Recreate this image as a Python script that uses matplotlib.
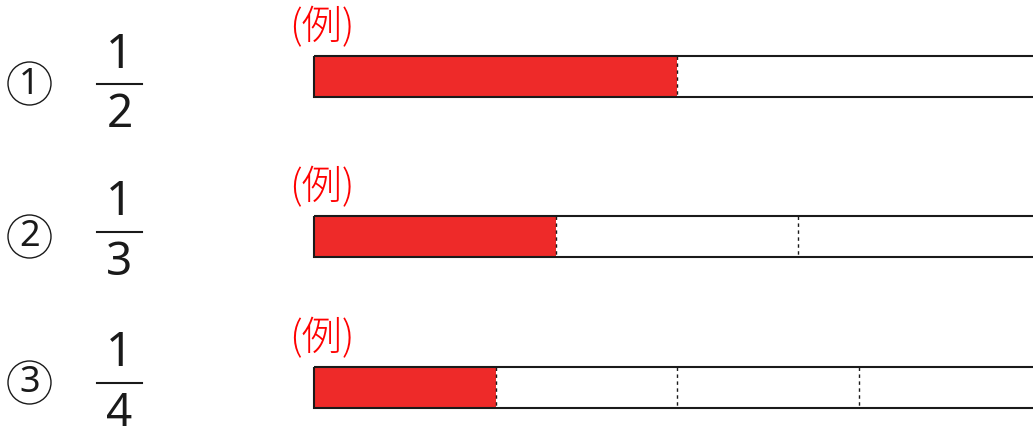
import matplotlib
matplotlib.use("Agg")
import matplotlib.pyplot as plt
from matplotlib.patches import Ellipse

plt.rcParams['font.family'] = ['Noto Sans CJK JP', 'DejaVu Sans']

# ---- data ----
row_labels = ["1", "2", "3"]
numerators = [1, 1, 1]
denominators = [2, 3, 4]
example_label = "(例)"
shaded_parts = [1, 1, 1]

W, H = 1033, 435
fig = plt.figure(figsize=(W / 100, H / 100), dpi=100)
fig.patch.set_facecolor("white")

# layout (pixels)
bar_left_px, bar_right_px = 314, 1040
bar_centers_px = [77.5, 237.5, 388.5]
bar_h_px = 41
circle_cy = [84.5, 237.5, 383.5]
frac_line_y = [85, 233, 384]

def fx(x):
    return x / W

def fy(y):
    return 1 - y / H

# axis for bars: x in fraction units (0..1 = full bar), y in pixels
ax = fig.add_axes([0, 0, 1, 1])
scale = bar_right_px - bar_left_px
ax.set_xlim(-bar_left_px / scale, (W - bar_left_px) / scale)
ax.set_ylim(H, 0)
ax.axis("off")

red = "#ee2a29"
for i, (num, den) in enumerate(zip(numerators, denominators)):
    yc = bar_centers_px[i]
    # shaded part
    ax.barh(yc, shaded_parts[i] * num / den, left=0, height=bar_h_px,
            color=red, edgecolor="none", zorder=2)
    # outline
    ax.barh(yc, 1.0, left=0, height=bar_h_px, fill=False,
            edgecolor="#1a1a1a", linewidth=1.5, zorder=3)
    # dividers
    for k in range(1, den):
        ax.vlines(k / den, yc - bar_h_px / 2, yc + bar_h_px / 2,
                  colors="#1a1a1a", linewidth=1.0,
                  linestyles=(0, (2.5, 2.5)), zorder=4)
    # (例) label
    fig.text(fx(289), fy(yc - bar_h_px / 2 - 29), example_label,
             color="#ff0000", fontsize=29, fontweight="light",
             ha="left", va="center")

    # circled number
    cy = circle_cy[i]
    fig.add_artist(Ellipse((fx(29.5), fy(cy)), 43 / W, 43 / H,
                           transform=fig.transFigure, fill=False,
                           edgecolor="#1a1a1a", linewidth=1.0))
    fig.text(fx(29.5), fy(cy), row_labels[i], fontsize=26,
             family=["Noto Sans", "DejaVu Sans"], color="#1a1a1a",
             ha="center", va="center")

    # fraction
    ly = frac_line_y[i]
    fig.add_artist(plt.Line2D([fx(97), fx(142)], [fy(ly), fy(ly)],
                              transform=fig.transFigure,
                              color="#1a1a1a", linewidth=1.5))
    fig.text(fx(119.5), fy(ly - 30), str(num), fontsize=34,
             family=["Noto Sans", "DejaVu Sans"], color="#1a1a1a",
             ha="center", va="center")
    fig.text(fx(119.5), fy(ly + 30), str(den), fontsize=33,
             family=["Noto Sans", "DejaVu Sans"], color="#1a1a1a",
             ha="center", va="center")

fig.savefig("out.png", dpi=100, facecolor="white")
